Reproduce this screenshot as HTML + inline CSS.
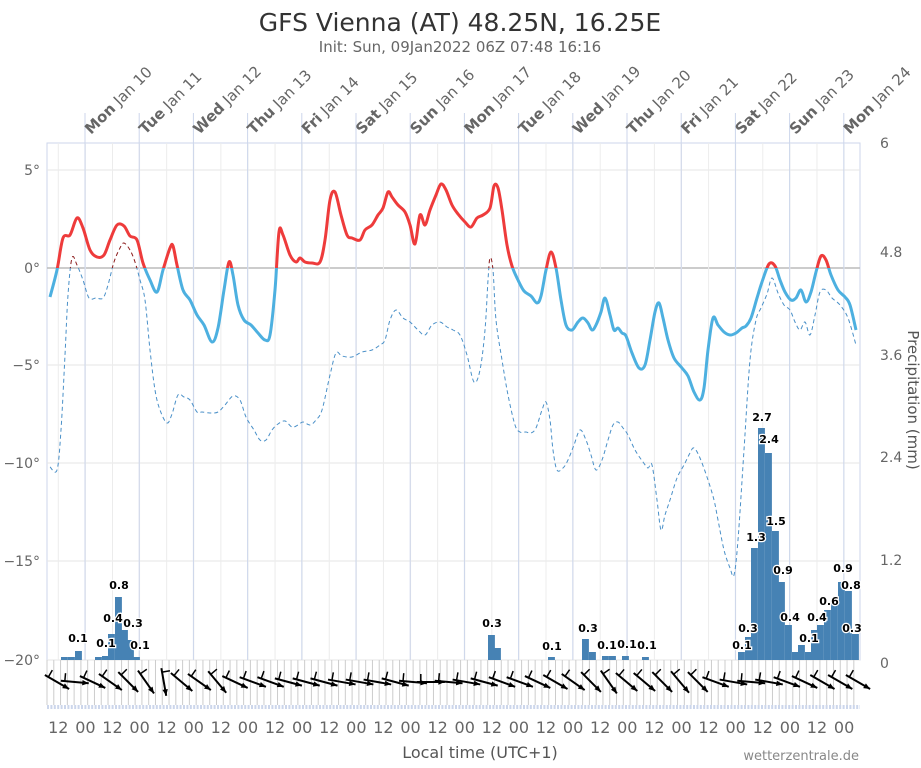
<!DOCTYPE html>
<html><head><meta charset="utf-8"><style>
body{margin:0;background:#fff;}
svg{display:block;font-family:"DejaVu Sans","Liberation Sans",sans-serif;}
</style></head><body>
<svg id="s" width="921" height="768" viewBox="0 0 921 768" xmlns="http://www.w3.org/2000/svg">
<defs>
<clipPath id="ab"><rect x="0" y="0" width="921" height="268"/></clipPath>
<clipPath id="be"><rect x="0" y="268" width="921" height="500"/></clipPath>
</defs>
<text x="460" y="31" text-anchor="middle" font-size="25" fill="#333">GFS Vienna (AT) 48.25N, 16.25E</text>
<text x="460" y="52" text-anchor="middle" font-size="15" fill="#666">Init: Sun, 09Jan2022 06Z 07:48 16:16</text>
<g id="g"></g>
<text x="480" y="764" text-anchor="middle" font-size="16" fill="#555" dy="-6">Local time (UTC+1)</text>
<text x="859" y="760" text-anchor="end" font-size="13" fill="#888">wetterzentrale.de</text>
<text transform="translate(908,400) rotate(90)" text-anchor="middle" font-size="15" fill="#555">Precipitation (mm)</text>
</svg>
<script>
const g=document.getElementById('g');let h='';
const X0=47,X1=860,T=143,B=660;
h+=`<rect x="${X0}" y="${T}" width="${X1-X0}" height="${B-T}" fill="none" stroke="#ccd6eb"/>`;
// horizontal grid
[[170,'5°'],[268,'0°'],[365,'−5°'],[463,'−10°'],[561,'−15°'],[660,'−20°']].forEach(([y,l])=>{
 h+=`<line x1="${X0}" x2="${X1}" y1="${y}" y2="${y}" stroke="${y==268?'#bbb':'#e6e6e6'}" stroke-width="${y==268?1.5:1}"/>`;
 h+=`<text x="40" y="${y+5}" text-anchor="end" font-size="14" fill="#666">${l}</text>`;});
[[143,'6'],[252,'4.8'],[355,'3.6'],[457,'2.4'],[560,'1.2'],[663,'0']].forEach(([y,l])=>{
 h+=`<text x="880" y="${y+5}" font-size="14" fill="#666">${l}</text>`;});
// vertical grid
for(let t=5;t<=365;t+=12){const x=X0+t*2.258;if(x>X1)break;h+=`<line x1="${x}" x2="${x}" y1="${T}" y2="${B}" stroke="#ececec"/>`;}
const days=['Mon Jan 10','Tue Jan 11','Wed Jan 12','Thu Jan 13','Fri Jan 14','Sat Jan 15','Sun Jan 16','Mon Jan 17','Tue Jan 18','Wed Jan 19','Thu Jan 20','Fri Jan 21','Sat Jan 22','Sun Jan 23','Mon Jan 24'];
days.forEach((d,i)=>{const x=85+i*54.2;const p=d.split(' ');
 h+=`<line x1="${x}" x2="${x}" y1="113" y2="${B}" stroke="#ccd6eb"/>`;
 h+=`<text transform="translate(${x+6},135) rotate(-45)" font-size="15" fill="#666"><tspan font-weight="bold">${p[0]}</tspan> ${p[1]} ${p[2]}</text>`;});
// wind area ticks
for(let x=X0;x<=X1;x+=6.78)h+=`<line x1="${x}" x2="${x}" y1="${B}" y2="705" stroke="#ccc"/>`;
h+=`<line x1="${X0}" x2="${X1}" y1="707" y2="707" stroke="#ccd6eb" stroke-width="4" stroke-dasharray="2,1.4"/>`;
// bottom labels
for(let t=5,i=0;t<=365;t+=12,i++){const x=X0+t*2.258;if(x>X1)break;h+=`<text x="${x}" y="733" text-anchor="middle" font-size="16" fill="#666">${i%2?'00':'12'}</text>`;}
// bars
const bars=[[61,3],[68,3],[75,9],[95,3],[102,4],[108,26],[115,63],[121,30],[127,20],[133,3],[488,25],[494,12],[548,3],[582,21],[589,8],[602,4],[609,4],[622,4],[642,3],[738,8],[745,23],[751,112],[758,232],[765,207],[772,129],[778,78],[785,35],[792,8],[798,15],[805,8],[811,30],[817,35],[824,50],[831,60],[838,78],[845,69],[852,26]];
bars.forEach(([x,v])=>h+=`<rect x="${x}" y="${B-v}" width="6.9" height="${v}" fill="#4682b4"/>`);
const lab=[[78,642,'0.1'],[106,647,'0.1'],[113,622,'0.4'],[119,589,'0.8'],[133,627,'0.3'],[140,649,'0.1'],[492,627,'0.3'],[552,650,'0.1'],[588,632,'0.3'],[607,649,'0.1'],[627,648,'0.1'],[647,649,'0.1'],[742,649,'0.1'],[748,632,'0.3'],[756,541,'1.3'],[762,421,'2.7'],[769,443,'2.4'],[776,525,'1.5'],[783,574,'0.9'],[790,621,'0.4'],[809,642,'0.1'],[817,621,'0.4'],[829,605,'0.6'],[843,572,'0.9'],[851,589,'0.8'],[852,632,'0.3']];
lab.forEach(([x,y,t])=>h+=`<text x="${x}" y="${y}" text-anchor="middle" font-size="11" font-weight="bold" fill="#000" stroke="#fff" stroke-width="2.5" paint-order="stroke">${t}</text>`);
function cr(p){let d=`M${p[0][0]},${p[0][1]}`;for(let i=0;i<p.length-1;i++){const a=p[i-1]||p[i],b=p[i],c=p[i+1],e=p[i+2]||c;d+=`C${b[0]+(c[0]-a[0])/6},${b[1]+(c[1]-a[1])/6} ${c[0]-(e[0]-b[0])/6},${c[1]-(e[1]-b[1])/6} ${c[0]},${c[1]}`;}return d;}
function P(s){const a=s.split(';').map(q=>q.split(',').map(Number));return a;}
const temp=P("50,297;57,270;63,238;70,235;77,218;83,228;90,250;97,257;104,255;110,240;117,225;124,226;130,236;137,240;143,263;150,280;157,292;163,270;170,248;173,246;177,265;183,290;190,300;197,315;204,325;212,342;218,328;224,290;229,262;233,275;238,305;244,320;251,325;258,333;265,340;270,335;275,290;279,232;283,235;290,255;296,262;300,258;305,262;312,263;320,262;325,240;330,200;335,192;341,215;347,235;352,238;360,240;365,230;372,225;378,215;383,208;388,192;392,197;398,205;405,212;410,225;415,244;420,215;425,225;430,210;436,195;441,184;446,190;452,205;458,214;465,222;471,227;477,218;483,215;490,208;494,186;498,188;502,210;507,245;512,266;518,280;524,291;531,296;537,303;541,296;546,270;551,252;556,268;561,300;566,325;572,330;578,322;583,318;588,323;592,330;596,325;601,312;605,298;610,315;614,330;618,328;622,333;626,336;632,353;639,368;645,365;650,340;655,312;659,303;663,318;668,340;674,358;682,368;688,376;694,392;700,400;704,388;708,350;713,318;718,325;724,332;730,335;736,333;742,328;746,326;751,318;757,298;762,282;769,264;775,266;780,280;785,292;791,300;796,298;801,290;806,302;811,292;816,272;821,256;826,260;831,275;838,290;845,297;850,305;856,330");
const dew=P("50,467;57,470;61,430;65,355;68,295;72,258;77,265;83,280;89,298;96,298;103,298;108,285;114,262;120,248;124,243;130,250;135,262;140,280;145,300;150,350;155,390;160,410;167,423;172,414;178,395;184,397;190,400;197,412;202,412;210,413;218,412;225,405;233,396;240,400;246,417;254,430;260,440;266,440;272,430;278,424;285,421;292,427;298,425;303,422;310,425;316,420;322,410;330,375;336,353;342,356;352,357;362,352;372,350;380,345;385,340;390,320;396,310;403,318;410,322;418,330;425,335;432,325;440,322;447,327;453,330;460,335;467,355;474,382;480,370;485,330;488,280;490,258;493,270;496,320;502,360;508,395;515,425;520,432;526,432;531,433;536,428;542,410;546,402;550,420;553,450;557,470;563,468;568,460;574,445;580,430;586,440;591,455;596,470;602,460;608,440;613,425;618,422;623,428;628,435;635,450;643,462;648,468;652,465;657,500;661,530;665,515;670,500;677,478;684,465;690,453;694,448;700,458;708,480;714,500;718,520;724,550;730,568;734,575;738,540;744,450;750,360;756,320;761,308;767,294;772,278;778,293;784,305;790,310;795,322;800,330;805,322;810,335;815,315;820,292;826,290;832,298;840,305;848,318;856,345");
const dd=cr(dew),td=cr(temp);
h+=`<path d="${dd}" fill="none" stroke="#4a90c8" stroke-width="1" stroke-dasharray="4,3" clip-path="url(#be)"/>`;
h+=`<path d="${dd}" fill="none" stroke="#8b1a1a" stroke-width="1" stroke-dasharray="4,3" clip-path="url(#ab)"/>`;
h+=`<path d="${td}" fill="none" stroke="#4db0e0" stroke-width="3" clip-path="url(#be)"/>`;
h+=`<path d="${td}" fill="none" stroke="#ee3b3b" stroke-width="3" clip-path="url(#ab)"/>`;
// wind arrows
const ang=[30,5,25,35,45,55,80,40,35,50,25,20,20,15,15,15,10,10,10,15,5,0,5,10,15,20,20,25,30,35,45,55,40,40,45,50,45,20,10,5,10,20,25,30,30,30,30];
for(let i=0;i<ang.length;i++){const cx=57+i*17.8,cy=684;if(cx>865)break;const a=ang[i]*Math.PI/180,L=14;
 const x1=cx-L*Math.cos(a),y1=cy-L*Math.sin(a)-2,x2=cx+L*Math.cos(a),y2=cy+L*Math.sin(a)-2;
 h+=`<line x1="${x1}" y1="${y1}" x2="${x2}" y2="${y2}" stroke="#000" stroke-width="2"/>`;
 const ha=a+Math.PI;const p1=[x2+7*Math.cos(ha+0.4),y2+7*Math.sin(ha+0.4)],p2=[x2+7*Math.cos(ha-0.4),y2+7*Math.sin(ha-0.4)];
 h+=`<polygon points="${x2},${y2} ${p1} ${p2}" fill="#000"/>`;
 h+=`<line x1="${x1+4*Math.cos(a)}" y1="${y1+4*Math.sin(a)}" x2="${x1+4*Math.cos(a)+8*Math.sin(a)}" y2="${y1+4*Math.sin(a)-8*Math.cos(a)}" stroke="#000" stroke-width="1.5"/>`;}
g.innerHTML=h;
</script>
</body></html>
